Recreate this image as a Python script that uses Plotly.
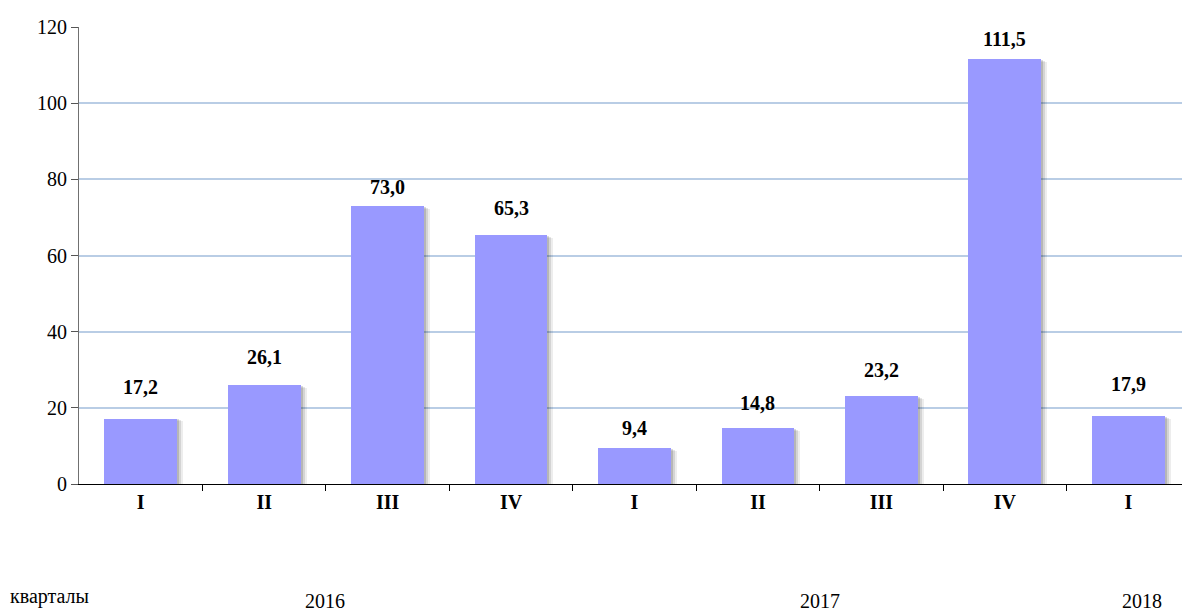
import plotly.graph_objects as go

quarters = ["I", "II", "III", "IV", "I", "II", "III", "IV", "I"]
values = [17.2, 26.1, 73.0, 65.3, 9.4, 14.8, 23.2, 111.5, 17.9]
label_gap_px = [32, 28, 19, 27, 20, 25, 26, 20, 32]
years = ["2016", "2017", "2018"]
year_x_px = [325, 820, 1142]
y_ticks = [0, 20, 40, 60, 80, 100, 120]

FONT = "Times New Roman, Liberation Serif, DejaVu Serif, serif"
BAR_COLOR = "#9999FF"
x = list(range(len(values)))
bar_w = 0.59
PLOT_L, PLOT_R, PLOT_T, PLOT_B = 79, 1190, 20, 484   # target screen pixels
PAGE_OFF = 8                                          # body margin of the page
px_per_unit_x = (PLOT_R - PLOT_L) / 9.0
px_per_unit_y = (PLOT_B - PLOT_T) / 120.0
plot_h = PLOT_B - PLOT_T
plot_w = PLOT_R - PLOT_L

fig = go.Figure()

for k, a in [(6, 0.07), (4, 0.10), (2, 0.14)]:
    fig.add_trace(go.Bar(
        x=x, y=values, width=bar_w,
        offset=-bar_w / 2 + k / px_per_unit_x,
        base=-k / 2 / px_per_unit_y,
        marker=dict(color=f"rgba(0,0,0,{a})", line=dict(width=0)),
        hoverinfo="skip", showlegend=False,
    ))

fig.add_trace(go.Bar(
    x=x, y=values, width=bar_w, offset=-bar_w / 2,
    marker=dict(color=BAR_COLOR, line=dict(width=0)),
    showlegend=False,
))

for xi, v, g in zip(x, values, label_gap_px):
    fig.add_annotation(
        x=xi, y=v, text=f"<b>{v:.1f}</b>".replace(".", ","), showarrow=False,
        yshift=g, yanchor="middle", xanchor="center",
        font=dict(family=FONT, size=20, color="black"),
    )

fig.add_annotation(x=(8 - PLOT_L) / plot_w, y=-(598 - PLOT_B) / plot_h,
                   xref="paper", yref="paper", text="кварталы",
                   showarrow=False, xanchor="left", yanchor="middle",
                   font=dict(family=FONT, size=20, color="black"))
for yr, xpx in zip(years, year_x_px):
    fig.add_annotation(x=(xpx - PLOT_L) / plot_w, y=-(603 - PLOT_B) / plot_h,
                       xref="paper", yref="paper", text=yr, showarrow=False,
                       xanchor="center", yanchor="middle",
                       font=dict(family=FONT, size=20, color="black"))

fig.update_layout(
    width=1190, height=612,
    margin=dict(l=PLOT_L - PAGE_OFF, r=1190 - (PLOT_R - PAGE_OFF),
                t=PLOT_T - PAGE_OFF, b=612 - (PLOT_B - PAGE_OFF)),
    plot_bgcolor="white", paper_bgcolor="white",
    barmode="overlay", bargap=0,
    font=dict(family=FONT),
    xaxis=dict(
        range=[-0.5, 8.5], tickmode="array", tickvals=x,
        ticktext=[f"<b>{q}</b>" for q in quarters],
        ticks="", showgrid=False, zeroline=False,
        showline=True, linecolor="black", linewidth=1,
        tickfont=dict(family=FONT, size=20, color="black"),
        minor=dict(tickmode="array", tickvals=[i + 0.5 for i in range(8)],
                   ticks="outside", ticklen=6, tickcolor="black", showgrid=False),
    ),
    yaxis=dict(
        range=[0, 120], tickmode="array", tickvals=y_ticks,
        ticks="outside", ticklen=7, tickcolor="#555555",
        showgrid=True, gridcolor="#B9CDE5", gridwidth=1.5,
        zeroline=False, showline=True, linecolor="#707070", linewidth=1,
        tickfont=dict(family=FONT, size=20, color="black"),
    ),
)

fig.write_html("out.html")
